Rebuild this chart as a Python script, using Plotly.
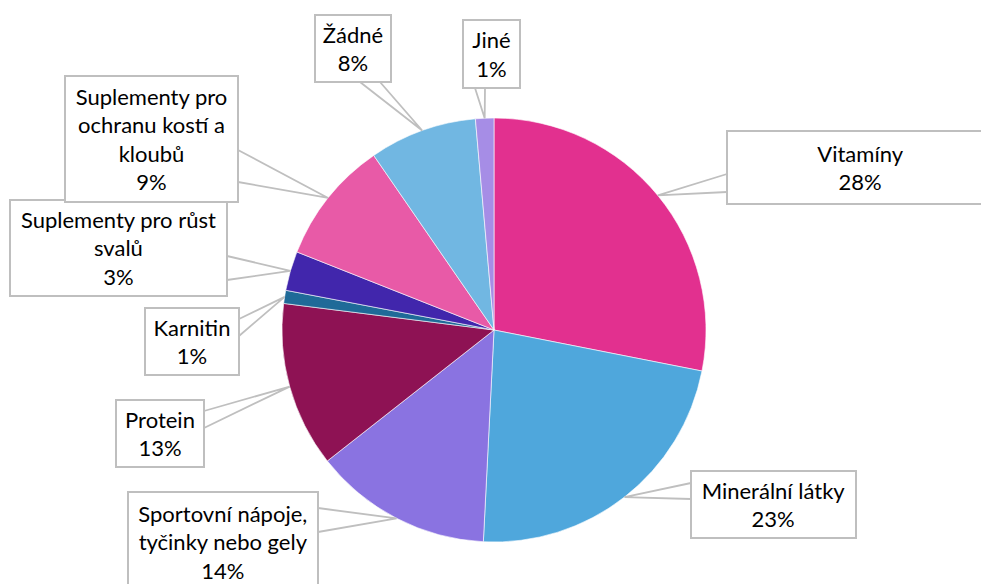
"""Pie chart of supplement use with Excel-style callout labels."""

import numpy as np
import plotly.graph_objects as go

categories = [
    "Vitamíny",
    "Minerální látky",
    "Sportovní nápoje,<br>tyčinky nebo gely",
    "Protein",
    "Karnitin",
    "Suplementy pro růst<br>svalů",
    "Suplementy pro<br>ochranu kostí a<br>kloubů",
    "Žádné",
    "Jiné",
]
shares = [28.1, 22.7, 13.6, 12.6, 1.0, 3.0, 9.4, 8.2, 1.4]
colors = [
    "#E2308F",
    "#4FA7DC",
    "#8A73E1",
    "#8E1254",
    "#1F6A98",
    "#4126AC",
    "#E85AA7",
    "#71B7E2",
    "#A68DE6",
]

W, H = 981, 584
CX, CY, R = 494, 330, 212

# callout boxes in pixels: left, top, right, bottom
boxes = [
    (727, 131, 994, 204),
    (691, 471, 856, 538),
    (128, 492, 318, 592),
    (116, 400, 204, 467),
    (145, 308, 239, 375),
    (10, 200, 227, 296),
    (65, 76, 238, 202),
    (315, 15, 391, 82),
    (463, 20, 520, 88),
]
# the two points where each callout wedge leaves its box
anchors = [
    [(727, 174), (727, 192)],
    [(691, 483), (691, 499)],
    [(318, 508), (318, 532)],
    [(204, 411), (204, 428)],
    [(239, 319), (239, 336)],
    [(227, 256), (227, 280)],
    [(238, 150), (238, 182)],
    [(360, 82), (380, 82)],
    [(475, 88), (485, 88)],
]

BORDER = "#BFBFBF"


def px_x(x):
    return x / W


def px_y(y):
    return 1 - y / H


fig = go.Figure(
    go.Pie(
        labels=categories,
        values=shares,
        sort=False,
        direction="clockwise",
        rotation=0,
        textinfo="none",
        marker={"colors": colors, "line": {"color": "white", "width": 0.6}},
        domain={
            "x": [px_x(CX - R), px_x(CX + R)],
            "y": [px_y(CY + R), px_y(CY - R)],
        },
        showlegend=False,
    )
)

total = sum(shares)
cumulative = np.cumsum([0] + shares[:-1])
for name, value, start, box, pts in zip(categories, shares, cumulative, boxes, anchors):
    angle = 2 * np.pi * (start + value / 2) / total
    tip_x = CX + R * np.sin(angle)
    tip_y = CY - R * np.cos(angle)
    (x1, y1), (x2, y2) = pts
    fig.add_shape(
        type="path",
        xref="paper",
        yref="paper",
        path=(
            f"M {px_x(x1)} {px_y(y1)} L {px_x(tip_x)} {px_y(tip_y)} "
            f"L {px_x(x2)} {px_y(y2)}"
        ),
        line={"color": BORDER, "width": 1.8},
        layer="above",
    )

    left, top, right, bottom = box
    percent = round(value / total * 100)
    fig.add_annotation(
        x=px_x((left + right) / 2),
        y=px_y((top + bottom) / 2),
        xref="paper",
        yref="paper",
        xanchor="center",
        yanchor="middle",
        text=f"{name}<br>{percent}%",
        showarrow=False,
        align="center",
        valign="middle",
        width=right - left - 2,
        height=bottom - top - 2,
        borderpad=0,
        bgcolor="white",
        bordercolor=BORDER,
        borderwidth=2,
        font={"family": "Lato", "size": 22, "color": "#000000"},
    )

fig.update_layout(
    width=W,
    height=H,
    margin={"l": 0, "r": 0, "t": 0, "b": 0},
    paper_bgcolor="white",
    plot_bgcolor="white",
)

# drop the default page margin so the figure sits at the window's corner
fig.write_html(
    "out.html",
    config={"displayModeBar": False},
    post_script="document.body.style.margin = '0';",
)
